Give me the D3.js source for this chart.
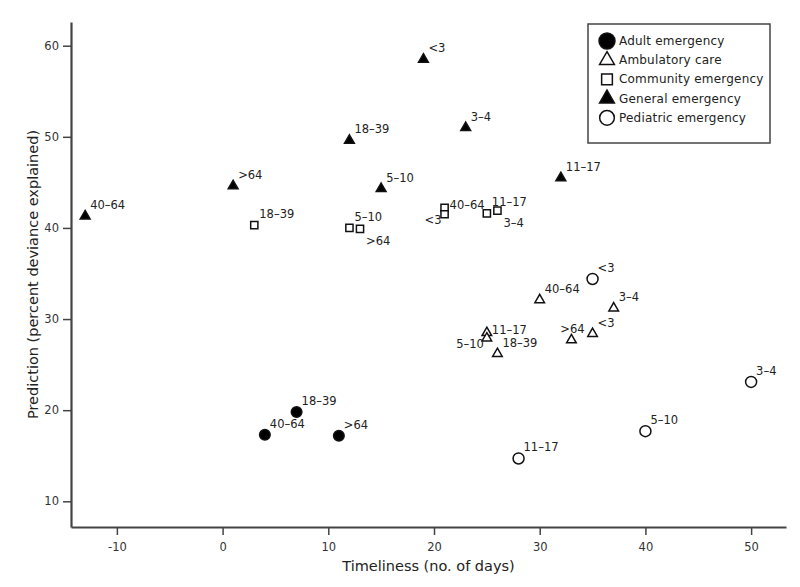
<!DOCTYPE html>
<html>
<head>
<meta charset="utf-8">
<script src="https://cdn.jsdelivr.net/npm/d3@7"></script>
<style>
  body { margin: 0; background: #fff; }
  svg { display: block; font-family: "DejaVu Sans", Verdana, sans-serif; }
</style>
</head>
<body>
<svg id="chart" width="800" height="587"></svg>
<script>
// --- data ---
const groups = ["Adult emergency", "Ambulatory care", "Community emergency", "General emergency", "Pediatric emergency"];

const adultLabels = ["40–64", "18–39", ">64"];
const adultX = [4, 7, 11];
const adultY = [17.3, 19.8, 17.2];

const ambulatoryLabels = ["40–64", "3–4", "11–17", "5–10", "18–39", ">64", "<3"];
const ambulatoryX = [30, 37, 25, 25, 26, 33, 35];
const ambulatoryY = [32.1, 31.2, 28.5, 27.9, 26.2, 27.7, 28.4];

const communityLabels = ["18–39", "5–10", ">64", "40–64", "<3", "11–17", "3–4"];
const communityX = [3, 12, 13, 21, 21, 25, 26];
const communityY = [40.3, 40.0, 39.9, 42.2, 41.5, 41.6, 41.9];

const generalLabels = ["<3", "3–4", "18–39", ">64", "5–10", "40–64", "11–17"];
const generalX = [19, 23, 12, 1, 15, -13, 32];
const generalY = [58.5, 51.0, 49.6, 44.6, 44.3, 41.3, 45.5];

const pediatricLabels = ["<3", "3–4", "5–10", "11–17"];
const pediatricX = [35, 50, 40, 28];
const pediatricY = [34.4, 23.1, 17.7, 14.7];

const xTicks = [-10, 0, 10, 20, 30, 40, 50];
const yTicks = [10, 20, 30, 40, 50, 60];

const series = [
  { group: groups[0], labels: adultLabels, xs: adultX, ys: adultY },
  { group: groups[1], labels: ambulatoryLabels, xs: ambulatoryX, ys: ambulatoryY },
  { group: groups[2], labels: communityLabels, xs: communityX, ys: communityY },
  { group: groups[3], labels: generalLabels, xs: generalX, ys: generalY },
  { group: groups[4], labels: pediatricLabels, xs: pediatricX, ys: pediatricY }
];
const points = series.flatMap(s => s.labels.map((l, i) => ({ group: s.group, label: l, x: s.xs[i], y: s.ys[i] })));

// --- marker styles per group ---
const markerStyle = {
  "Adult emergency":     { type: d3.symbolCircle,   size: 88, fill: "#000", legendSize: 200 },
  "Ambulatory care":     { type: d3.symbolTriangle, size: 40, fill: "#fff", legendSize: 95 },
  "Community emergency": { type: d3.symbolSquare,   size: 52, fill: "#fff", legendSize: 115 },
  "General emergency":   { type: d3.symbolTriangle, size: 42, fill: "#000", legendSize: 95 },
  "Pediatric emergency": { type: d3.symbolCircle,   size: 95, fill: "#fff", legendSize: 170 }
};

// label placement (direction of the point label relative to its marker)
const placements = {
  ne: { dx: 5, dy: -7, anchor: "start" },
  e:  { dx: 5, dy: 1, anchor: "start" },
  se: { dx: 6, dy: 16, anchor: "start" },
  w:  { dx: -3, dy: 10, anchor: "end" },
  n:  { dx: 1, dy: -7, anchor: "middle" }
};
const labelPlacement = {
  "Community emergency|<3": "w",
  "Community emergency|>64": "se",
  "Community emergency|3–4": "se",
  "Community emergency|40–64": "e",
  "Ambulatory care|5–10": "w",
  "Ambulatory care|11–17": "e",
  "Ambulatory care|>64": "n"
};

// --- layout ---
const svg = d3.select("#chart");
const margin = { top: 22, right: 14, bottom: 60, left: 71 };
const W = 800, H = 587;

const x = d3.scaleLinear().domain([-14.34, 53.3]).range([margin.left, W - margin.right]);
const y = d3.scaleLinear().domain([7.18, 62.6]).range([H - margin.bottom, margin.top]);

// axes
const xAxis = svg.append("g")
  .attr("transform", `translate(0,${H - margin.bottom})`)
  .call(d3.axisBottom(x).tickValues(xTicks).tickSize(8).tickSizeOuter(0).tickPadding(8).tickFormat(d3.format("d")));
const yAxis = svg.append("g")
  .attr("transform", `translate(${margin.left},0)`)
  .call(d3.axisLeft(y).tickValues(yTicks).tickSize(8).tickSizeOuter(0).tickPadding(4));

[xAxis, yAxis].forEach(g => {
  g.select(".domain").attr("stroke", "#444").attr("stroke-width", 2.2);
  g.selectAll(".tick line").attr("stroke", "#444").attr("stroke-width", 1.5);
  g.selectAll(".tick text")
    .attr("fill", "#333")
    .style("font-size", "11.5px")
    .style("font-family", "'DejaVu Sans', Verdana, sans-serif");
});
xAxis.selectAll(".tick text").text(d => d < 0 ? "-" + Math.abs(d) : d);

// axis titles
svg.append("text")
  .attr("x", (margin.left + W - margin.right) / 2)
  .attr("y", 571)
  .attr("text-anchor", "middle")
  .attr("fill", "#222")
  .style("font-size", "14.5px")
  .text("Timeliness (no. of days)");

svg.append("text")
  .attr("transform", `translate(38,${(margin.top + H - margin.bottom) / 2}) rotate(-90)`)
  .attr("text-anchor", "middle")
  .attr("fill", "#222")
  .style("font-size", "14.5px")
  .text("Prediction (percent deviance explained)");

// points
const symbol = d3.symbol();
svg.append("g").selectAll("path")
  .data(points)
  .join("path")
  .attr("transform", d => `translate(${x(d.x)},${y(d.y)})`)
  .attr("d", d => symbol.type(markerStyle[d.group].type).size(markerStyle[d.group].size)())
  .attr("fill", d => markerStyle[d.group].fill)
  .attr("stroke", "#111")
  .attr("stroke-width", 1.5);

// point labels
svg.append("g").selectAll("text")
  .data(points)
  .join("text")
  .each(function (d) {
    const p = placements[labelPlacement[d.group + "|" + d.label] || "ne"];
    d3.select(this)
      .attr("x", x(d.x) + p.dx)
      .attr("y", y(d.y) + p.dy)
      .attr("text-anchor", p.anchor);
  })
  .attr("fill", "#222")
  .style("font-size", "11.5px")
  .text(d => d.label);

// legend
const legend = svg.append("g").attr("transform", "translate(588,24)");
legend.append("rect")
  .attr("width", 182)
  .attr("height", 119)
  .attr("fill", "#fff")
  .attr("stroke", "#444")
  .attr("stroke-width", 1.5);

const items = legend.selectAll("g.item")
  .data(groups)
  .join("g")
  .attr("class", "item")
  .attr("transform", (d, i) => `translate(19,${17 + i * 19.2})`);

items.append("path")
  .attr("d", d => symbol.type(markerStyle[d].type).size(markerStyle[d].legendSize)())
  .attr("fill", d => markerStyle[d].fill)
  .attr("stroke", "#111")
  .attr("stroke-width", 1.5);

items.append("text")
  .attr("x", 12)
  .attr("y", 4)
  .attr("fill", "#222")
  .style("font-size", "12px")
  .style("letter-spacing", "0.2px")
  .text(d => d);
</script>
</body>
</html>
